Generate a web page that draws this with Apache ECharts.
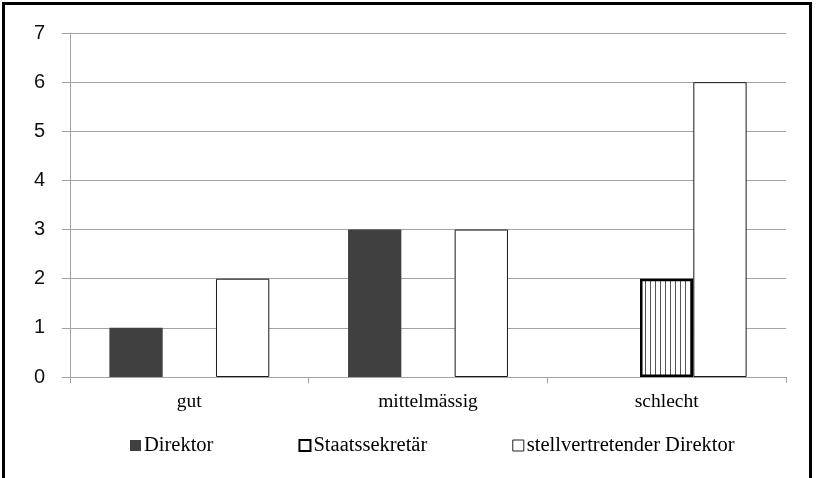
<!DOCTYPE html>
<html>
<head>
<meta charset="utf-8">
<script src="https://cdn.jsdelivr.net/npm/echarts@6/dist/echarts.min.js"></script>
<style>
  html, body { margin: 0; padding: 0; background: #fff; }
  #frame { position: absolute; left: 2px; top: 2px; width: 810px; height: 480px; border: 3px solid #000; box-sizing: border-box; }
  #chart { position: absolute; left: 0; top: 0; width: 818px; height: 478px; }
</style>
</head>
<body>
<div id="chart"></div>
<div id="frame"></div>
<script>
// Ratings per category and role
const categories = ['gut', 'mittelmässig', 'schlecht'];
const seriesNames = ['Direktor', 'Staatssekretär', 'stellvertretender Direktor'];
const direktor = [1, 3, 0];
const staatssekretaer = [0, 0, 2];
const stellvertreter = [2, 3, 6];
const yTicks = [0, 1, 2, 3, 4, 5, 6, 7];

// Vertical hatching used for the Staatssekretär bars
function stripePattern() {
  const c = document.createElement('canvas');
  c.width = 5; c.height = 10;
  const g = c.getContext('2d');
  g.fillStyle = '#ffffff';
  g.fillRect(0, 0, 5, 10);
  g.fillStyle = '#555555';
  g.fillRect(0, 0, 1, 10);
  return c;
}
const hatch = { image: stripePattern(), repeat: 'repeat' };

// zero values get no outline so that no empty bar frame is drawn
function asItems(values) {
  return values.map(v => (v === 0 ? { value: v, itemStyle: { borderWidth: 0 } } : v));
}

const gridColor = '#a3a3a3';
const serif = '"Liberation Serif", "Times New Roman", serif';

const chart = echarts.init(document.getElementById('chart'), null, { renderer: 'canvas' });
chart.setOption({
  animation: false,
  backgroundColor: '#ffffff',
  grid: { left: 70, right: 32, top: 33, bottom: 101, containLabel: false },
  legend: {
    left: 125,
    top: 430,
    itemWidth: 11,
    itemHeight: 11,
    itemGap: 85,
    icon: 'rect',
    textStyle: { fontFamily: serif, fontSize: 20.5, color: '#000', padding: [0, 0, 0, -2] },
    data: [
      { name: seriesNames[0], itemStyle: { color: '#404040', borderWidth: 0 } },
      { name: seriesNames[1], itemStyle: { color: '#ffffff', borderColor: '#000', borderWidth: 2 } },
      { name: seriesNames[2], itemStyle: { color: '#ffffff', borderColor: '#222', borderWidth: 1 } }
    ]
  },
  xAxis: {
    type: 'category',
    data: categories,
    boundaryGap: true,
    axisLine: { lineStyle: { color: gridColor, width: 1 } },
    axisTick: { show: true, alignWithLabel: false, length: 6, lineStyle: { color: gridColor } },
    axisLabel: { fontFamily: serif, fontSize: 19.5, color: '#000', margin: 15 },
    splitLine: { show: false }
  },
  yAxis: {
    type: 'value',
    min: yTicks[0],
    max: yTicks[yTicks.length - 1],
    interval: 1,
    axisLine: { show: true, lineStyle: { color: gridColor, width: 1 } },
    axisTick: { show: true, length: 8, lineStyle: { color: gridColor } },
    axisLabel: { fontFamily: '"Liberation Sans", Arial, sans-serif', fontSize: 20, color: '#111', margin: 25 },
    splitLine: { show: true, lineStyle: { color: gridColor, width: 1 } }
  },
  series: [
    {
      name: seriesNames[0], type: 'bar', data: asItems(direktor),
      barGap: '0%', barCategoryGap: '33%',
      itemStyle: { color: '#404040', borderWidth: 0 }
    },
    {
      name: seriesNames[1], type: 'bar', data: asItems(staatssekretaer),
      barGap: '0%', barCategoryGap: '33%',
      itemStyle: { color: hatch, borderColor: '#000', borderWidth: 2.5 }
    },
    {
      name: seriesNames[2], type: 'bar', data: asItems(stellvertreter),
      barGap: '0%', barCategoryGap: '33%',
      itemStyle: { color: '#ffffff', borderColor: '#1a1a1a', borderWidth: 1 }
    }
  ]
});
</script>
</body>
</html>
